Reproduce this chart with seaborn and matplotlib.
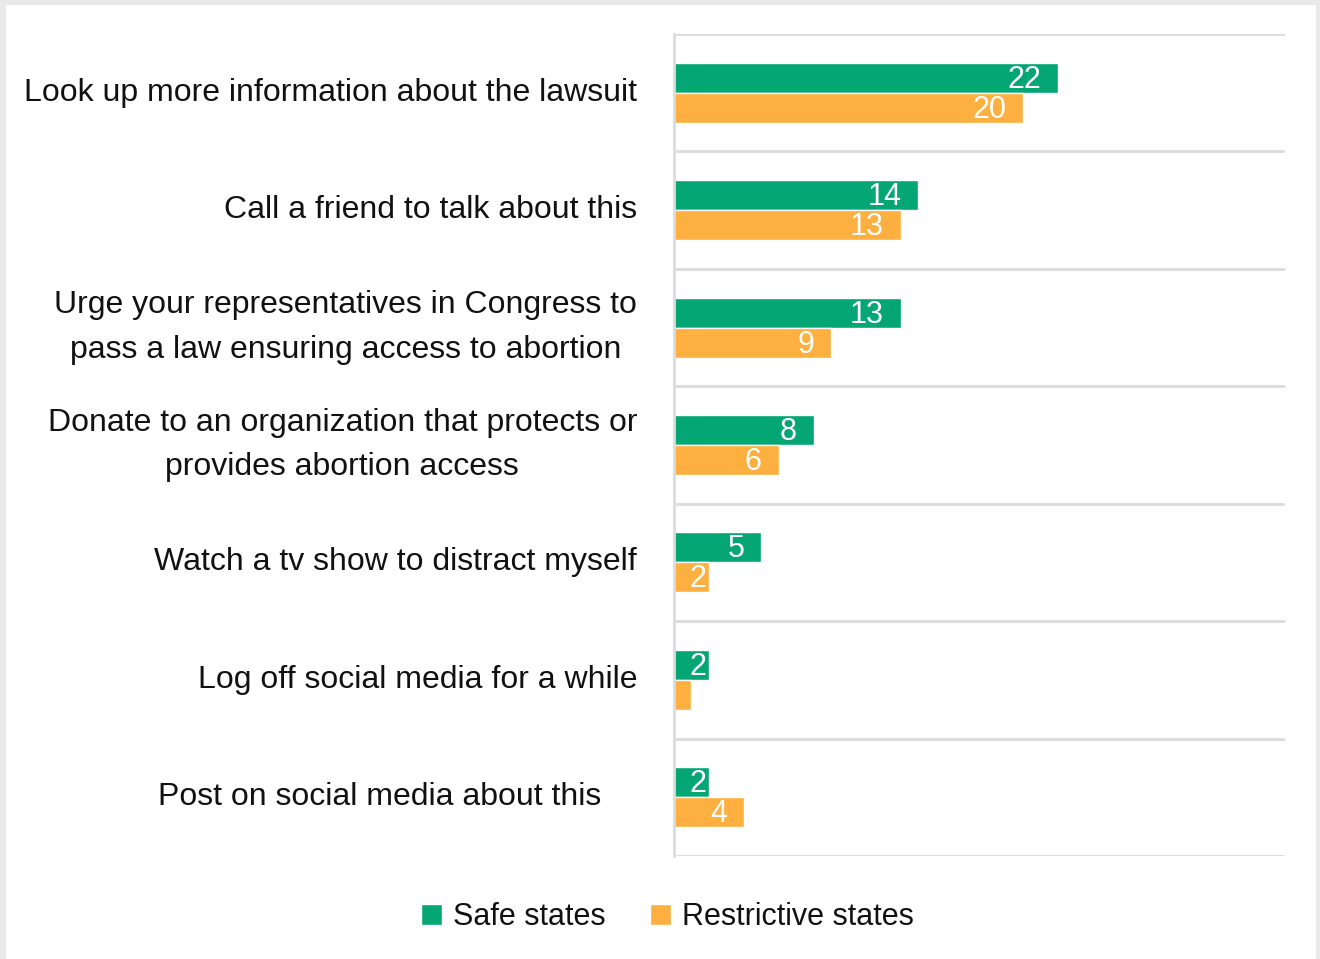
import numpy as np
import pandas as pd
import matplotlib.pyplot as plt
import seaborn as sns
from matplotlib.patches import Rectangle, Patch

# survey answers (%)
actions = [
    "Look up more information about the lawsuit",
    "Call a friend to talk about this",
    "Urge your representatives in Congress to\npass a law ensuring access to abortion",
    "Donate to an organization that protects or\nprovides abortion access",
    "Watch a tv show to distract myself",
    "Log off social media for a while",
    "Post on social media about this    ",
]
safe_states = [22, 14, 13, 8, 5, 2, 2]
restrictive_states = [20, 13, 9, 6, 2, 1, 4]
groups = ["Safe states", "Restrictive states"]
colors = ["#04a673", "#fdaf3f"]

df = pd.DataFrame({
    "action": actions * 2,
    "pct": safe_states + restrictive_states,
    "group": [groups[0]] * len(actions) + [groups[1]] * len(actions),
})

sns.set_style("white")
plt.rcParams["font.family"] = ["Liberation Sans", "DejaVu Sans"]

fig = plt.figure(figsize=(13.2, 9.59), dpi=100, facecolor="#e9e9e9")
fig.add_artist(Rectangle((6 / 1320, 0), 1310 / 1320, 954 / 959, transform=fig.transFigure,
                         facecolor="white", edgecolor="none", zorder=-1))
ax = fig.add_axes([674 / 1320, 1 - 856 / 959, 611 / 1320, 822 / 959])

sns.barplot(data=df, x="pct", y="action", hue="group", palette=colors, saturation=1,
            width=0.51, orient="h", ax=ax, legend=False)

ax.set_xlim(0, 35)
ax.set_ylim(6.5, -0.5)
ax.set_xticks([])
ax.set_xlabel("")
ax.set_ylabel("")
ax.set_yticks(np.arange(-0.5, 7, 1), minor=True)
ax.set_axisbelow(True)
ax.grid(True, which="minor", axis="y", color="#dcdcdc", lw=2)
ax.grid(False, which="major")
ax.tick_params(axis="y", which="both", length=0, pad=26.6, labelsize=23, labelcolor="#111111")
for lab in ax.get_yticklabels():
    lab.set_multialignment("center")
    lab.set_linespacing(1.65)
    lab.set_verticalalignment("center")
for s in ["top", "right", "bottom"]:
    ax.spines[s].set_visible(False)
ax.spines["left"].set_color("#dcdcdc")
ax.spines["left"].set_linewidth(2)

# white value labels inside the bar ends
for container in ax.containers:
    for bar in container:
        v = int(round(bar.get_width()))
        yc = bar.get_y() + bar.get_height() / 2
        if v >= 4:
            ax.annotate(str(v), (v, yc), xytext=(-17, -2), textcoords="offset pixels",
                        ha="right", va="center", color="white", fontsize=22)
        elif v >= 2:
            ax.annotate(str(v), (v, yc), xytext=(-3, -2), textcoords="offset pixels",
                        ha="right", va="center", color="white", fontsize=22)
        else:
            t = ax.annotate(str(v), (v, yc), xytext=(-2, -2), textcoords="offset pixels",
                            ha="left", va="center", color="white", fontsize=22)
            t.set_clip_path(bar)

handles = [Patch(facecolor=c, label=g) for c, g in zip(colors, groups)]
fig.legend(handles=handles, loc="center", bbox_to_anchor=(667 / 1320, 1 - 917 / 959), ncol=2,
           frameon=False, fontsize=22, handlelength=0.7, handleheight=0.7,
           handletextpad=0.35, columnspacing=1.45, labelcolor="#111111")

fig.savefig("out.png", dpi=100, facecolor=fig.get_facecolor())
